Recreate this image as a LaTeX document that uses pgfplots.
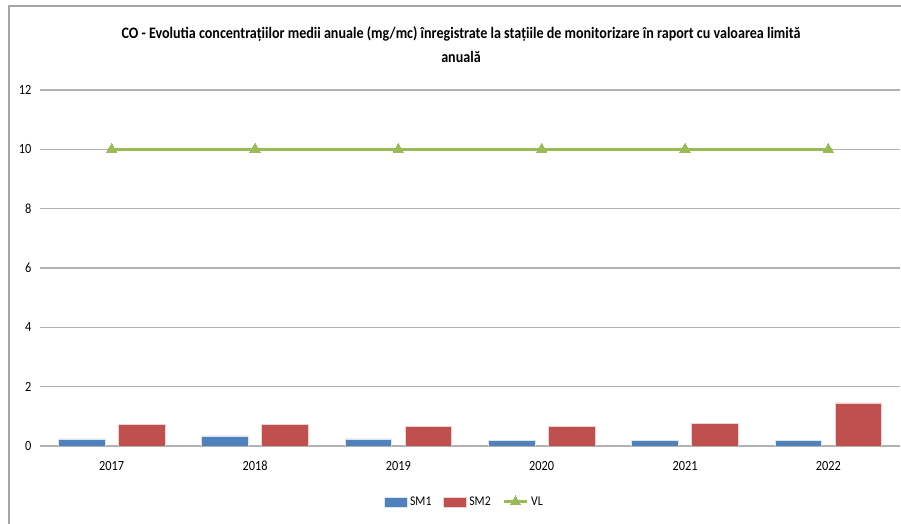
\documentclass[border=0pt]{standalone}
\usepackage{fontspec}
\setmainfont{Carlito}[FakeStretch=0.88]
\usepackage{pgfplots}
\pgfplotsset{compat=1.18}

\definecolor{smblue}{HTML}{4F81BD}
\definecolor{smred}{HTML}{C0504D}
\definecolor{vlgreen}{HTML}{9BBB59}
\definecolor{gridgray}{RGB}{178,178,178}

\begin{document}
\begin{tikzpicture}[x=0.75pt,y=0.75pt]
\useasboundingbox (0,0) rectangle (901,524);
% chart frame (left and top edges visible)
\draw[gray!70, line width=0.8pt] (9,0) -- (9,518) -- (901,518);

\node[align=center, font=\bfseries\fontsize{12}{18}\selectfont] at (461,479)
  {CO - Evolutia concentrațiilor medii anuale (mg/mc) înregistrate la stațiile de monitorizare în raport cu valoarea limită\\anuală};

\begin{axis}[
    at={(30pt,58.5pt)}, anchor=south west,
    scale only axis,
    width=645pt, height=267pt,
    xmin=-0.5, xmax=5.5,
    ymin=0, ymax=12,
    ytick={0,2,...,12},
    xtick={0,1,2,3,4,5},
    xticklabels={2017,2018,2019,2020,2021,2022},
    major tick length=0pt,
    axis line style={draw=none},
    ymajorgrids,
    grid style={gridgray, line width=0.8pt},
    extra y ticks={0},
    extra y tick labels={},
    extra y tick style={grid style={gridgray, line width=1.5pt}},
    tick label style={font=\fontsize{10.5}{12}\selectfont},
    /pgf/number format/assume math mode=true,
    yticklabel style={xshift=-3pt},
    xticklabel style={yshift=-8pt},
    legend style={at={(0.494,-0.157)}, anchor=center, draw=none,
        font=\fontsize{10}{12}\selectfont, legend columns=3,
        /tikz/every even column/.append style={column sep=7pt}},
    legend image code/.code={\draw[#1] (0pt,-3.75pt) rectangle (17pt,3.75pt);},
]
\addplot[ybar, bar width=35pt, bar shift=-22.5pt, fill=smblue, draw=white!80!smblue, line width=0.4pt]
  coordinates {(0,0.24) (1,0.34) (2,0.24) (3,0.20) (4,0.20) (5,0.20)};
\addlegendentry{SM1}
\addplot[ybar, bar width=35pt, bar shift=22.5pt, fill=smred, draw=white!75!smred, line width=0.4pt]
  coordinates {(0,0.72) (1,0.72) (2,0.67) (3,0.67) (4,0.77) (5,1.45)};
\addlegendentry{SM2}
\addplot[vlgreen, line width=2.3pt, mark=triangle*, mark size=4.6pt,
    mark options={solid, line width=0pt}, line legend]
  coordinates {(0,10) (1,10) (2,10) (3,10) (4,10) (5,10)};
\addlegendentry{VL}
\end{axis}
\end{tikzpicture}
\end{document}
